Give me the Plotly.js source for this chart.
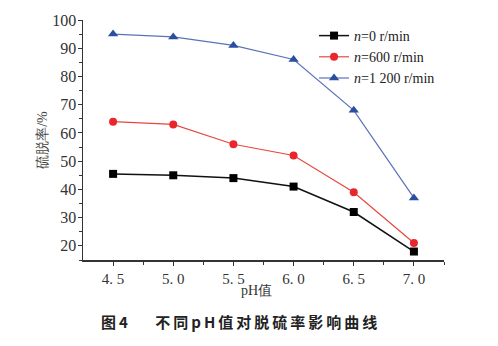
<!DOCTYPE html>
<html><head><meta charset="utf-8">
<script src="https://cdn.plot.ly/plotly-3.0.1.min.js"></script>
<style>html,body{margin:0;padding:0;background:#fff}#c{width:498px;height:346px}</style>
</head><body><div id="c"></div>
<script>
const ph = [4.5, 5.0, 5.5, 6.0, 6.5, 7.0];
const tickLabels = ['4. 5', '5. 0', '5. 5', '6. 0', '6. 5', '7. 0'];
const n0 = [45.5, 45, 44, 41, 32, 18];
const n600 = [64, 63, 56, 52, 39, 21];
const n1200 = [95, 94, 91, 86, 68, 37];
const names = ['<i>n</i>=0 r/min', '<i>n</i>=600 r/min', '<i>n</i>=1 200 r/min'];

const serif = '"Liberation Serif", "DejaVu Serif", serif';
const traces = [
  {x: ph, y: n0, name: names[0], mode: 'lines+markers', line: {color: '#111111', width: 1.5}, marker: {symbol: 'square', size: 8, color: '#000000'}},
  {x: ph, y: n600, name: names[1], mode: 'lines+markers', line: {color: '#e8473f', width: 1.2}, marker: {symbol: 'circle', size: 8, color: '#e8262b'}},
  {x: ph, y: n1200, name: names[2], mode: 'lines+markers', line: {color: '#5b72b8', width: 1.2}, marker: {symbol: 'triangle-up', size: 9, color: '#2a4f9e'}}
];
const layout = {
  width: 498, height: 346,
  margin: {l: 83, r: 54, t: 20, b: 86},
  paper_bgcolor: '#ffffff', plot_bgcolor: '#ffffff',
  showlegend: true,
  legend: {x: 0.64, y: 1.0, xanchor: 'left', yanchor: 'top', bgcolor: 'rgba(0,0,0,0)',
    font: {family: serif, size: 14, color: '#222'}, tracegroupgap: 0, itemwidth: 30},
  xaxis: {range: [4.25, 7.25], tickvals: ph, ticktext: tickLabels, ticks: 'outside', ticklen: 4,
    tickcolor: '#333', showline: true, linecolor: '#333', linewidth: 1.5, showgrid: false, zeroline: false,
    tickfont: {family: serif, size: 15, color: '#333'},
    minor: {tickvals: [4.75, 5.25, 5.75, 6.25, 6.75, 7.25], ticks: 'outside', ticklen: 3, tickcolor: '#333'}},
  yaxis: {range: [15, 100], tickvals: [20, 30, 40, 50, 60, 70, 80, 90, 100], ticks: 'outside', ticklen: 4,
    tickcolor: '#333', showline: true, linecolor: '#333', linewidth: 1.5, showgrid: false, zeroline: false,
    tickfont: {family: serif, size: 16, color: '#333'}, ticklabelstandoff: -2,
    minor: {tickvals: [15, 25, 35, 45, 55, 65, 75, 85, 95], ticks: 'outside', ticklen: 3, tickcolor: '#333'},
    title: {text: '硫脱率/%', font: {family: serif, size: 14, color: '#444'}, standoff: 1}},
  annotations: [
    {xref: 'paper', yref: 'paper', x: 0.48, y: -0.125, xanchor: 'center', yanchor: 'middle', showarrow: false,
      text: 'pH值', font: {family: serif, size: 14, color: '#333'}},
    {xref: 'paper', yref: 'paper', x: 0.435, y: -0.255, xanchor: 'center', yanchor: 'middle', showarrow: false,
      text: '<b><span style="letter-spacing:3px">图4　 不同pH值对脱硫率影响曲线</span></b>', font: {family: 'Noto Sans CJK SC, sans-serif', size: 15, color: '#222'}}]
};
Plotly.newPlot('c', traces, layout, {displayModeBar: false, staticPlot: true});
</script></body></html>
